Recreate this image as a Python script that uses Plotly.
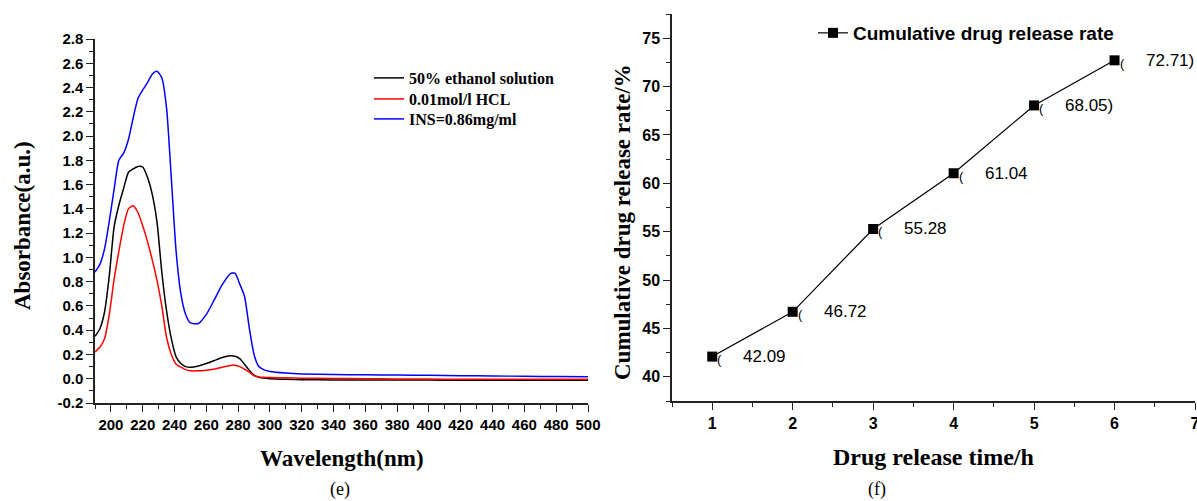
import plotly.graph_objects as go

# ---------------- data: panel (e) UV spectra ----------------
wavelength = [190, 193, 196, 199, 202, 205, 208, 211, 214, 217, 220, 223, 226, 229,
              232, 235, 238, 241, 244, 247, 250, 255, 260, 265, 270, 275, 278, 281,
              284, 287, 290, 293, 296, 300, 310, 320, 340, 360, 380, 400, 420, 440,
              460, 480, 500]
abs_ethanol = [0.35, 0.41, 0.55, 0.85, 1.25, 1.43, 1.57, 1.70, 1.73, 1.75, 1.745, 1.66,
               1.52, 1.29, 0.88, 0.56, 0.33, 0.18, 0.125, 0.10, 0.095, 0.105, 0.125,
               0.15, 0.175, 0.19, 0.185, 0.165, 0.12, 0.07, 0.03, 0.012, 0.005, 0.0,
               -0.005, -0.008, -0.01, -0.01, -0.011, -0.011, -0.012, -0.012, -0.012,
               -0.012, -0.012]
abs_hcl = [0.22, 0.26, 0.33, 0.53, 0.82, 1.05, 1.26, 1.40, 1.425, 1.37, 1.26, 1.13,
           0.98, 0.81, 0.60, 0.34, 0.20, 0.12, 0.095, 0.075, 0.065, 0.065, 0.07, 0.08,
           0.095, 0.11, 0.112, 0.10, 0.08, 0.055, 0.025, 0.015, 0.012, 0.01, 0.008,
           0.005, 0.002, 0.0, -0.002, -0.003, -0.004, -0.005, -0.005, -0.005, -0.005]
abs_ins = [0.88, 0.94, 1.07, 1.30, 1.56, 1.80, 1.86, 1.97, 2.15, 2.31, 2.38, 2.44, 2.51,
           2.535, 2.48, 2.23, 1.65, 1.05, 0.70, 0.53, 0.46, 0.455, 0.53, 0.65, 0.775,
           0.865, 0.87, 0.78, 0.68, 0.42, 0.20, 0.10, 0.075, 0.06, 0.047, 0.04, 0.035,
           0.032, 0.03, 0.028, 0.025, 0.023, 0.02, 0.018, 0.017]
spectra_names = ["50% ethanol solution", "0.01mol/l HCL", "INS=0.86mg/ml"]
spectra_colors = ["#000000", "#ff0000", "#0000ff"]
e_xticks = list(range(200, 501, 20))
e_yticks = [-0.2, 0.0, 0.2, 0.4, 0.6, 0.8, 1.0, 1.2, 1.4, 1.6, 1.8, 2.0, 2.2, 2.4, 2.6, 2.8]

# ---------------- data: panel (f) release ----------------
release_time = [1, 2, 3, 4, 5, 6]
release_rate = [42.09, 46.72, 55.28, 61.04, 68.05, 72.71]
release_labels = ["42.09", "46.72", "55.28", "61.04", "68.05)", "72.71)"]
f_xticks = [1, 2, 3, 4, 5, 6, 7]
f_yticks = [40, 45, 50, 55, 60, 65, 70, 75]

W, H = 1197, 501
def px(x):
    return x / W
def py(y):
    return (H - y) / H

TICKF = "Arial, Liberation Sans, sans-serif"
SERIF = "Times New Roman, Liberation Serif, serif"
AXC = "#222222"

fig = go.Figure()

spectra_legends = ["legend", "legend2", "legend3"]
for ys, nm, col, lg in zip([abs_ethanol, abs_hcl, abs_ins], spectra_names, spectra_colors,
                           spectra_legends):
    fig.add_trace(go.Scatter(x=wavelength, y=ys, name=nm, mode="lines",
                             line=dict(color=col, width=1.5, shape="spline", smoothing=0.6),
                             xaxis="x", yaxis="y", legend=lg))

fig.add_trace(go.Scatter(x=release_time, y=release_rate, name="Cumulative drug release rate",
                         mode="lines+markers",
                         line=dict(color="#000000", width=1.2),
                         marker=dict(symbol="square", size=10, color="#000000"),
                         xaxis="x2", yaxis="y2", legend="legend4"))

annotations = []
for xv, yv, lab in zip(release_time, release_rate, release_labels):
    annotations.append(dict(x=xv, y=yv, xref="x2", yref="y2", text=lab, showarrow=False,
                            xanchor="left", yanchor="middle", xshift=29,
                            font=dict(family=TICKF, size=17, color="#000")))
    annotations.append(dict(x=xv, y=yv, xref="x2", yref="y2", text="(", showarrow=False,
                            xanchor="left", yanchor="middle", xshift=3, yshift=-3,
                            font=dict(family=TICKF, size=13, color="#000")))

title_font = dict(family=SERIF, size=23, color="#000", weight="bold")
annotations += [
    dict(x=px(342), y=py(458), xref="paper", yref="paper", text="Wavelength(nm)",
         showarrow=False, xanchor="center", yanchor="middle", font=title_font),
    dict(x=px(22), y=py(226), xref="paper", yref="paper", text="Absorbance(a.u.)",
         showarrow=False, xanchor="center", yanchor="middle", textangle=-90, font=title_font),
    dict(x=px(933), y=py(457), xref="paper", yref="paper", text="Drug release time/h",
         showarrow=False, xanchor="center", yanchor="middle",
         font=dict(family=SERIF, size=24, color="#000", weight="bold")),
    dict(x=px(622), y=py(222), xref="paper", yref="paper", text="Cumulative drug release rate/%",
         showarrow=False, xanchor="center", yanchor="middle", textangle=-90, font=title_font),
    dict(x=px(340), y=py(489), xref="paper", yref="paper", text="(e)",
         showarrow=False, xanchor="center", yanchor="middle",
         font=dict(family=SERIF, size=18, color="#000")),
    dict(x=px(877), y=py(489), xref="paper", yref="paper", text="(f)",
         showarrow=False, xanchor="center", yanchor="middle",
         font=dict(family=SERIF, size=18, color="#000")),
]

def axis_common(size):
    return dict(showline=True, linecolor=AXC, linewidth=1.5, ticks="outside",
                ticklen=7, tickwidth=1.3, tickcolor=AXC, showgrid=False, zeroline=False,
                automargin=False, ticklabeloverflow="allow",
                tickfont=dict(family=TICKF, size=size, color="#000"))

def legend_at(x_px, top_px, font):
    return dict(x=px(x_px), y=py(top_px), xanchor="left", yanchor="top",
                bgcolor="rgba(0,0,0,0)", borderwidth=0, font=font)

leg_font = dict(family=SERIF, size=16, color="#000", weight="bold")

fig.update_layout(
    width=W, height=H, margin=dict(l=0, r=0, t=0, b=0, pad=0, autoexpand=False),
    paper_bgcolor="white", plot_bgcolor="white",
    xaxis=dict(domain=[px(95), px(588)], range=[190, 500], tickvals=e_xticks,
               ticktext=[f"<b>{v}</b>" for v in e_xticks],
               minor=dict(ticks="outside", ticklen=4, tickwidth=1.2, tickcolor=AXC, dtick=10,
                          showgrid=False),
               anchor="y", **axis_common(15)),
    yaxis=dict(domain=[py(403), py(39)], range=[-0.2, 2.8], tickvals=e_yticks,
               ticktext=[f"<b>{v:.1f}</b>" for v in e_yticks],
               minor=dict(ticks="outside", ticklen=4, tickwidth=1.2, tickcolor=AXC, dtick=0.1,
                          tick0=-0.2, showgrid=False),
               anchor="x", **axis_common(15)),
    xaxis2=dict(domain=[px(672), px(1195)], range=[0.5, 7], tickvals=f_xticks,
                ticktext=[f"<b>{v}</b>" for v in f_xticks],
                minor=dict(ticks="outside", ticklen=4, tickwidth=1.2, tickcolor=AXC, dtick=0.5,
                           tick0=0.5, showgrid=False),
                anchor="y2", **axis_common(16)),
    yaxis2=dict(domain=[py(401), py(14)], range=[37.5, 77.5], tickvals=f_yticks,
                ticktext=[f"<b>{v}</b>" for v in f_yticks],
                minor=dict(ticks="outside", ticklen=4, tickwidth=1.2, tickcolor=AXC, dtick=2.5,
                           tick0=37.5, showgrid=False),
                anchor="x2", **axis_common(16)),
    legend=legend_at(369, 61, leg_font),
    legend2=legend_at(369, 82, leg_font),
    legend3=legend_at(369, 102, leg_font),
    legend4=legend_at(813, 14, dict(family=TICKF, size=19, color="#000", weight="bold")),
    annotations=annotations,
    showlegend=True,
)

fig.write_html("out.html",
               config={"displayModeBar": False},
               post_script="document.body.style.margin='0';document.body.style.overflow='hidden';")
